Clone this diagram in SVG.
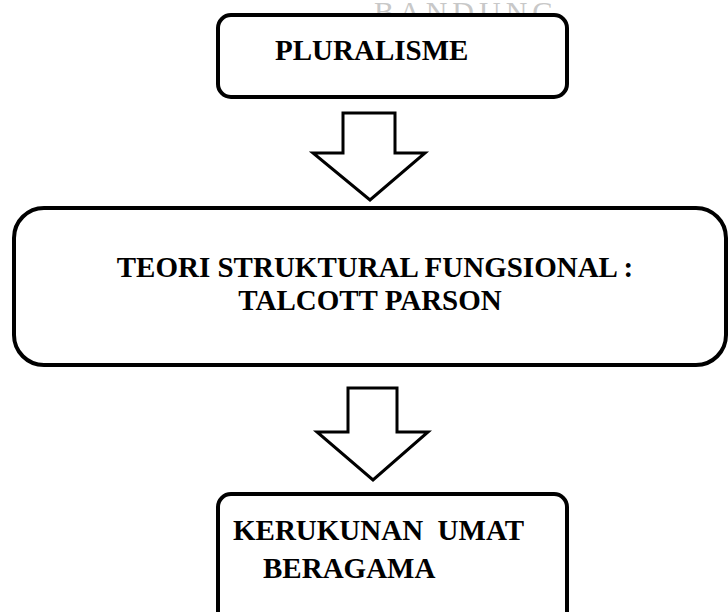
<svg xmlns="http://www.w3.org/2000/svg" width="728" height="612" viewBox="0 0 728 612">
<style>
.box{fill:#fff;stroke:#000;stroke-width:4}
.arr{fill:#fff;stroke:#000;stroke-width:3;stroke-linejoin:miter}
.t{font-family:"Liberation Serif","Times New Roman",serif;font-weight:bold;font-size:29px;fill:#000;white-space:pre}
.wm{font-family:"Liberation Serif",serif;font-size:30px;fill:#c8c8c8;letter-spacing:5px}
</style>
<rect width="728" height="612" fill="#fff"/>
<text class="wm" x="374" y="22">BANDUNG</text>
<g id="node-pluralisme">
<rect class="box" x="218" y="15" width="349" height="82" rx="13"/>
<text class="t" x="275" y="60">PLURALISME</text>
</g>
<g id="node-teori">
<rect class="box" x="14" y="208" width="712" height="157" rx="30"/>
<text class="t" x="375" y="277" text-anchor="middle">TEORI STRUKTURAL FUNGSIONAL :</text>
<text class="t" x="370" y="310" text-anchor="middle">TALCOTT PARSON</text>
</g>
<g id="node-kerukunan">
<rect class="box" x="218" y="494" width="349" height="130" rx="13"/>
<text class="t" x="233" y="540" xml:space="preserve">KERUKUNAN  UMAT</text>
<text class="t" x="263" y="578">BERAGAMA</text>
</g>
<g id="connectors">
<polygon class="arr" points="343,113 395,113 395,153 425,153 370,200 313,153 343,153"/>
<polygon class="arr" points="348,388 397,388 397,432 428,432 373,480 317,432 348,432"/>
</g>
</svg>
